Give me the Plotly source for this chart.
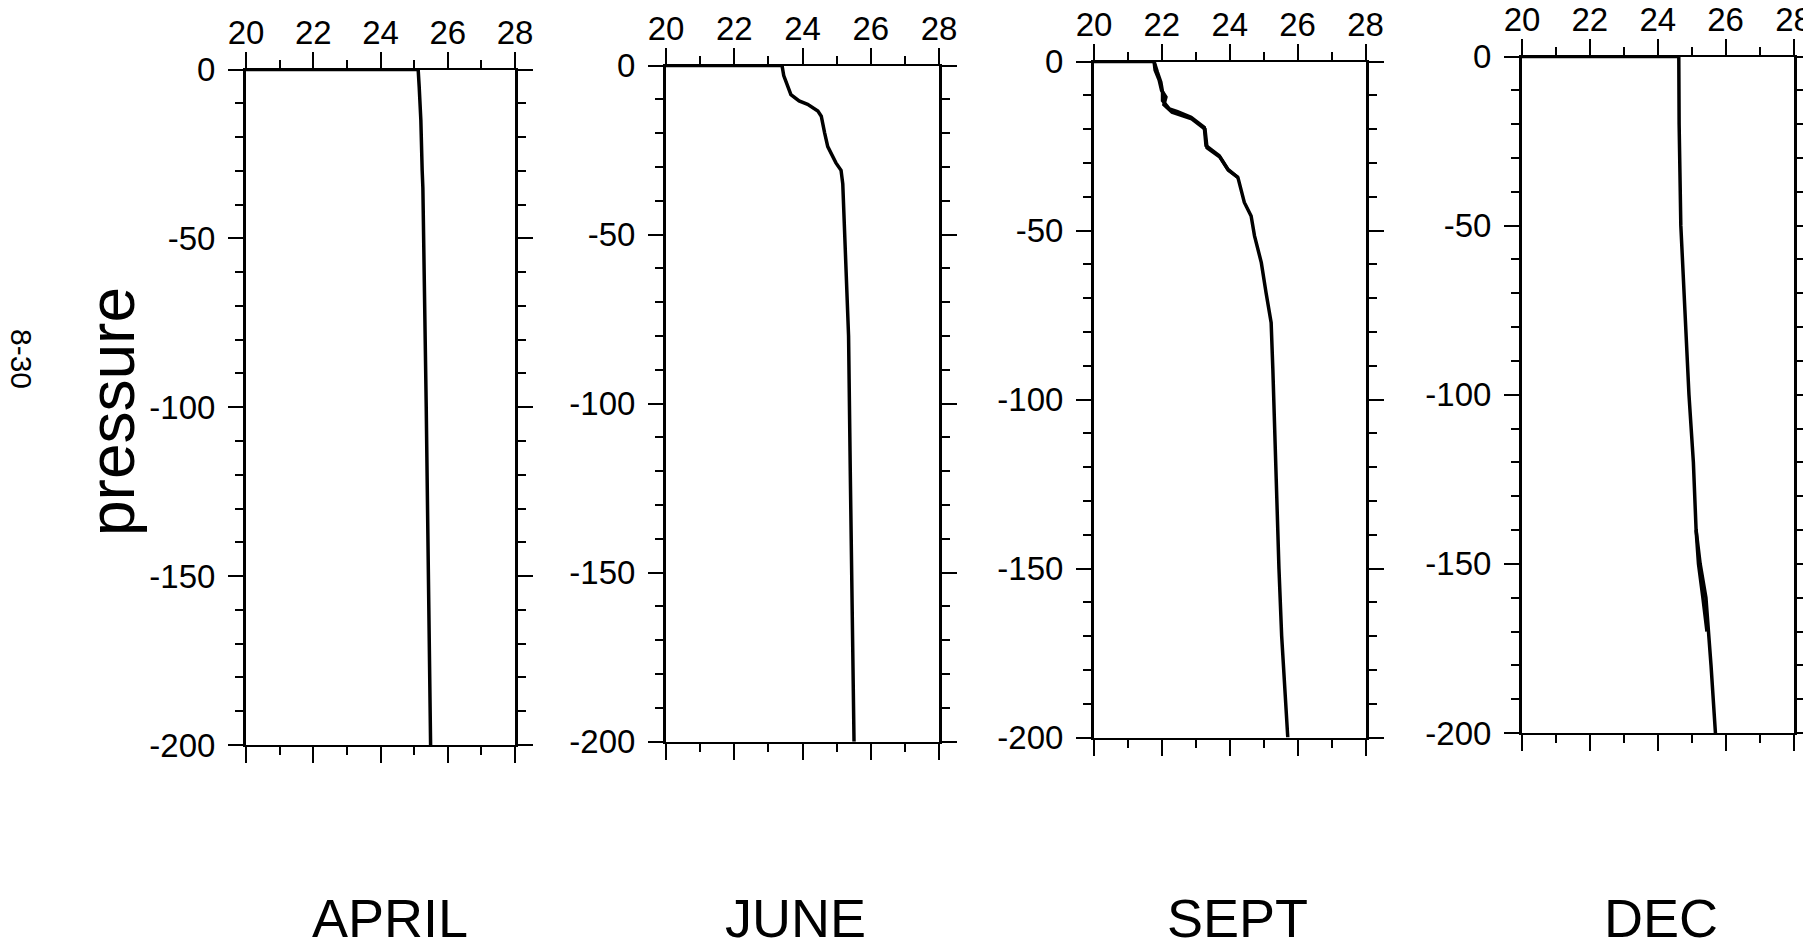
import plotly.graph_objects as go

# The page has an 8px body margin, so the figure is drawn 8px smaller and
# all reference pixel positions are shifted by that offset.
OFF = 8
W, H = 1811 - OFF, 948 - OFF

months = ["APRIL", "JUNE", "SEPT", "DEC"]

# temperature profiles (x: temperature, y: pressure)
april_t = [20.0, 25.12, 25.15, 25.20, 25.24, 25.26, 25.36, 25.43, 25.49]
april_p = [0, 0, -5, -15, -30, -35, -100, -150, -200]

june_t = [20.0, 23.40, 23.45, 23.55, 23.66, 23.90, 24.15, 24.45, 24.55, 24.65, 24.74,
          24.98, 25.13, 25.18, 25.23, 25.31, 25.35, 25.40, 25.45, 25.51]
june_p = [0, 0, -3, -6, -8.6, -10.5, -11.5, -13.5, -15, -20, -24,
          -28.8, -31, -35, -50, -69, -80, -120, -160, -200]

sept_t = [20.0, 21.77, 21.87, 21.97, 22.02, 22.02, 22.22, 22.46, 22.86, 23.25, 23.30,
          23.69, 23.94, 24.24, 24.43, 24.63, 24.73, 24.93, 25.07, 25.22, 25.27,
          25.32, 25.38, 25.45, 25.53, 25.61, 25.71]
sept_p = [0, 0, -3.2, -6.1, -9.1, -11.6, -14, -14.8, -16.5, -19.5, -24.9,
          -27.9, -31.8, -34.3, -41.7, -45.7, -51.6, -59.5, -68.4, -77.3, -91.1,
          -110, -130, -150, -170, -183, -200]
sept2_t = [21.77, 21.80, 21.92, 21.99, 22.12, 22.06, 22.30, 22.50, 22.88, 23.27, 23.33,
           23.71, 23.96, 24.24]
sept2_p = [0, -2.5, -5.5, -8.5, -10.5, -12.8, -15.0, -15.6, -17.0, -20.0, -25.5,
           -28.3, -32.2, -34.3]

dec_t = [20.0, 24.62, 24.63, 24.68, 24.80, 24.92, 25.05, 25.13, 25.25, 25.42, 25.57, 25.70]
dec_p = [0, 0, -20, -50, -75, -100, -120, -140, -150, -160, -180, -200]
dec2_t = [25.13, 25.20, 25.33, 25.45]
dec2_p = [-140, -150, -160, -170]

x_ticks = [20, 22, 24, 26, 28]
x_labels = ["20", "22", "24", "26", "28"]
y_ticks = [0, -50, -100, -150, -200]
y_labels = ["0", "-50", "-100", "-150", "-200"]

profiles = [
    [(april_t, april_p)],
    [(june_t, june_p)],
    [(sept_t, sept_p), (sept2_t, sept2_p)],
    [(dec_t, dec_p), (dec2_t, dec2_p)],
]

# panel boxes in reference pixels: left, right, top, bottom
boxes = [
    (246, 515, 69.5, 745),
    (666, 939, 65.5, 741.7),
    (1094, 1365.5, 61.5, 737.5),
    (1522, 1793.5, 56.5, 733),
]
label_x = [390, 795, 1237, 1661]


def px(x):
    return (x - OFF) / W


def py(y):
    return 1 - (y - OFF) / H


fig = go.Figure()
font = "Liberation Sans, Arial, Helvetica, sans-serif"

for i, (box, profs) in enumerate(zip(boxes, profiles)):
    l, r, t, b = box
    n = "" if i == 0 else str(i + 1)
    for (xs, ys) in profs:
        fig.add_trace(go.Scatter(
            x=xs, y=ys, mode="lines", line=dict(color="black", width=3.5),
            xaxis="x" + n, yaxis="y" + n, showlegend=False, hoverinfo="skip"))
    xa = dict(
        domain=[px(l), px(r)], range=[20, 28], side="top", anchor="y" + n,
        tickvals=x_ticks, ticktext=x_labels, ticks="outside", ticklen=16,
        tickwidth=1.5, tickcolor="black", automargin=False, ticklabelstandoff=-6,
        ticklabeloverflow="allow",
        minor=dict(dtick=1, ticks="outside", ticklen=8, tickwidth=1.5, tickcolor="black"),
        showline=True, linewidth=2, linecolor="black", mirror="ticks",
        showgrid=False, zeroline=False,
        tickfont=dict(family=font, size=33, color="black"),
    )
    ya = dict(
        domain=[py(b), py(t)], range=[-200, 0], anchor="x" + n,
        tickvals=y_ticks, ticktext=y_labels, ticks="outside", ticklen=15,
        tickwidth=1.5, tickcolor="black", automargin=False, ticklabelstandoff=6,
        ticklabeloverflow="allow",
        minor=dict(dtick=10, ticks="outside", ticklen=8, tickwidth=1.5, tickcolor="black"),
        showline=True, linewidth=3, linecolor="black", mirror="ticks",
        showgrid=False, zeroline=False,
        tickfont=dict(family=font, size=33, color="black"),
    )
    fig.update_layout(**{"xaxis" + n: xa, "yaxis" + n: ya})
    fig.add_annotation(text=months[i], x=px(label_x[i]), y=py(918),
                       xref="paper", yref="paper", showarrow=False,
                       font=dict(family=font, size=54, color="black"),
                       xanchor="center", yanchor="middle")

fig.add_annotation(text="pressure", x=px(112), y=py(412), xref="paper", yref="paper",
                   showarrow=False, textangle=-90,
                   font=dict(family=font, size=64, color="black"),
                   xanchor="center", yanchor="middle")
fig.add_annotation(text="8-30", x=px(22), y=py(359), xref="paper", yref="paper",
                   showarrow=False, textangle=90,
                   font=dict(family=font, size=30, color="black"),
                   xanchor="center", yanchor="middle")

fig.update_layout(width=W, height=H, margin=dict(l=0, r=0, t=0, b=0),
                  paper_bgcolor="white", plot_bgcolor="white")

fig.write_html("out.html")
